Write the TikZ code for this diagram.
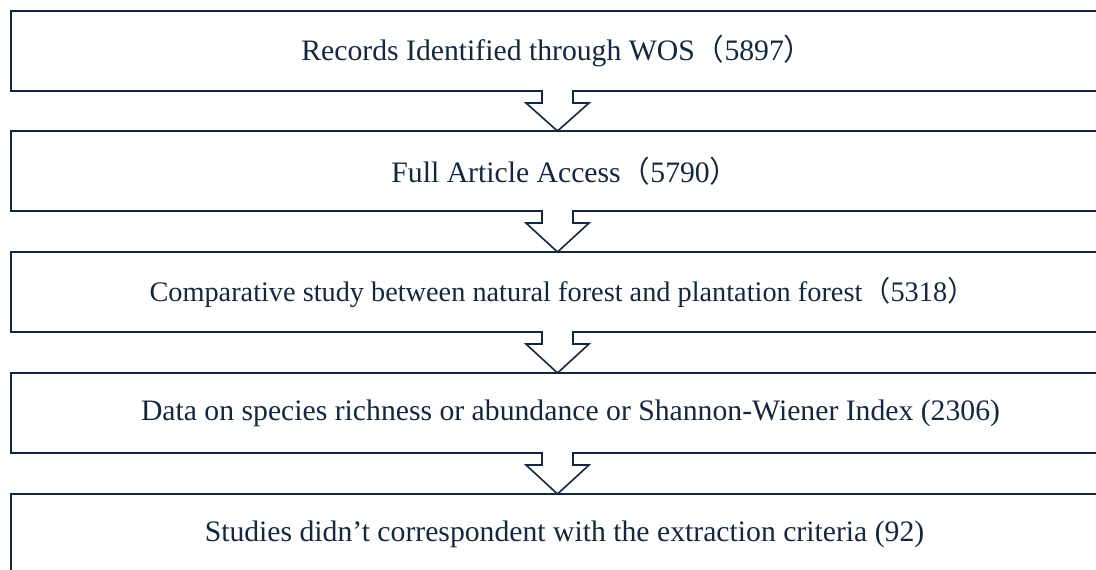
\documentclass[tikz,border=0pt]{standalone}
\usepackage{fontspec}
\setmainfont{Liberation Serif}
\newfontfamily\cjk{Noto Sans CJK SC}
\definecolor{navy}{HTML}{15273F}
\begin{document}
\begin{tikzpicture}[x=1pt,y=-1pt,
  stagebox/.style={draw=navy,line width=2.2pt,rectangle,minimum width=1093pt,minimum height=80pt,
    inner sep=0pt,outer sep=0pt,text=navy,font=\fontsize{29.7}{32}\selectfont},
  arrowline/.style={draw=navy,line width=1.6pt,line join=miter,fill=white}]
\useasboundingbox (0,0) rectangle (1096,570);
\clip (0,0) rectangle (1096,570);
\node[stagebox] (b1) at (557.5,51) {Records Identified through WOS{\cjk（}5897{\cjk）}};
\node[stagebox] (b2) at (557.5,171) {\hspace*{16pt}Full Article Access{\cjk（}5790{\cjk）}};
\node[stagebox,font=\fontsize{28.3}{31}\selectfont] (b3) at (557.5,292) {\hspace*{10pt}Comparative study between natural forest and plantation forest{\cjk（}5318{\cjk）}};
\node[stagebox] (b4) at (557.5,413) {\hspace*{26pt}Data on species richness or abundance or Shannon-Wiener Index (2306)};
\node[stagebox] (b5) at (557.5,534) {\hspace*{14pt}Studies didn’t correspondent with the extraction criteria (92)};
\foreach \a/\b in {b1/b2,b2/b3,b3/b4,b4/b5}{
  \fill[white] ([xshift=-14.5pt,yshift=2pt]\a.south) rectangle ([xshift=14.5pt,yshift=-12pt]\a.south);
  \draw[arrowline] ([xshift=-15.5pt]\a.south) -- ++(0,12) -- ++(-16,0) -- (\b.north)
    -- ([xshift=31.5pt,yshift=-12pt]\a.south) -- ++(-16,0) -- ++(0,-12);
}
\end{tikzpicture}
\end{document}
